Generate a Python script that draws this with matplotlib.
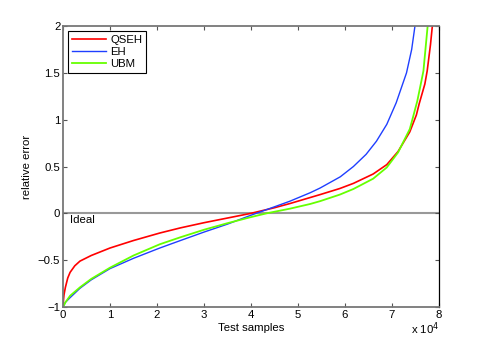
import matplotlib
matplotlib.use('Agg')
import matplotlib.pyplot as plt
from matplotlib.ticker import FuncFormatter

plt.rcParams['font.family'] = ['Liberation Sans', 'DejaVu Sans']

# x positions in units of 1e4 test samples
qseh_x = [0, 0.01, 0.02, 0.05, 0.1, 0.15, 0.25, 0.36, 0.6, 1.0, 1.5, 2.06, 2.5, 3.0,
          3.5, 4.0, 4.5, 4.83, 5.47, 5.89, 6.18, 6.6, 6.89, 7.13, 7.38, 7.52,
          7.58, 7.70, 7.75, 7.82, 7.86, 7.9]
qseh_y = [-1.0, -0.92, -0.87, -0.79, -0.69, -0.63, -0.56, -0.51, -0.45, -0.37, -0.29,
          -0.21, -0.155, -0.10, -0.05, 0.0, 0.06, 0.105, 0.20, 0.265, 0.32, 0.42,
          0.52, 0.66, 0.87, 1.05, 1.17, 1.38, 1.52, 1.8, 2.0, 2.3]

eh_x = [0, 0.02, 0.05, 0.15, 0.36, 0.6, 1.0, 1.5, 2.06, 2.5, 3.0, 3.5, 4.0, 4.5,
        4.83, 5.26, 5.47, 5.9, 6.18, 6.45, 6.67, 6.89, 7.09, 7.31, 7.42, 7.49, 7.53]
eh_y = [-1.0, -0.98, -0.95, -0.90, -0.80, -0.71, -0.59, -0.48, -0.37, -0.29, -0.20,
        -0.115, -0.02, 0.07, 0.13, 0.22, 0.27, 0.39, 0.50, 0.63, 0.77, 0.95,
        1.18, 1.5, 1.75, 2.0, 2.2]

ubm_x = [0, 0.02, 0.05, 0.15, 0.36, 0.6, 1.0, 1.5, 2.06, 2.5, 3.0, 3.5, 4.0, 4.33,
         4.83, 5.26, 5.47, 5.89, 6.18, 6.6, 6.89, 7.13, 7.38, 7.45, 7.54, 7.63,
         7.67, 7.76, 7.8]
ubm_y = [-1.0, -0.98, -0.95, -0.88, -0.79, -0.70, -0.58, -0.45, -0.33, -0.255,
         -0.175, -0.105, -0.04, 0.0, 0.05, 0.10, 0.13, 0.20, 0.26, 0.37, 0.49,
         0.65, 0.90, 1.03, 1.20, 1.42, 1.52, 2.0, 2.3]

fig = plt.figure(figsize=(4.85, 3.46), dpi=100)
ax = fig.add_axes([0.13, 0.1127, 0.775, 0.8121])

ax.axhline(0, color='#999999', lw=1.5, zorder=1)
ax.plot(qseh_x, qseh_y, color='#ff0000', lw=1.2, label='QSEH')
ax.plot(eh_x, eh_y, color='#1f3fff', lw=1.0, label='EH')
ax.plot(ubm_x, ubm_y, color='#66ff00', lw=1.3, label='UBM')
ax.text(0.15, -0.02, 'Ideal', fontsize=8.2, ha='left', va='top')

ax.set_xlim(0, 8)
ax.set_ylim(-1, 2)
ax.set_xticks(range(0, 9))
ax.set_yticks([-1, -0.5, 0, 0.5, 1, 1.5, 2])
ax.yaxis.set_major_formatter(FuncFormatter(lambda v, p: ('%g' % v).replace('-', '\u2212')))
ax.tick_params(direction='in', length=3, width=0.8, labelsize=8.2, top=True, right=True,
               color='#555555', pad=2)
for s in ['left', 'bottom', 'top']:
    ax.spines[s].set_color('#777777')
    ax.spines[s].set_linewidth(1.3)
ax.spines['right'].set_color('black')
ax.spines['right'].set_linewidth(0.9)

ax.set_xlabel('Test samples', fontsize=8.2, labelpad=2)
ax.set_ylabel('relative error', fontsize=8.2, labelpad=4)
fig.text(0.905, 0.025, 'x 10$^4$', fontsize=8.2, ha='right', va='bottom')

leg = ax.legend(loc='upper left', fontsize=8.2, handlelength=3.0, borderaxespad=0.4,
                fancybox=False, framealpha=1, edgecolor='black', borderpad=0.35,
                labelspacing=0.2, handletextpad=0.4)
leg.get_frame().set_linewidth(0.8)

fig.savefig('out.png', dpi=100)
